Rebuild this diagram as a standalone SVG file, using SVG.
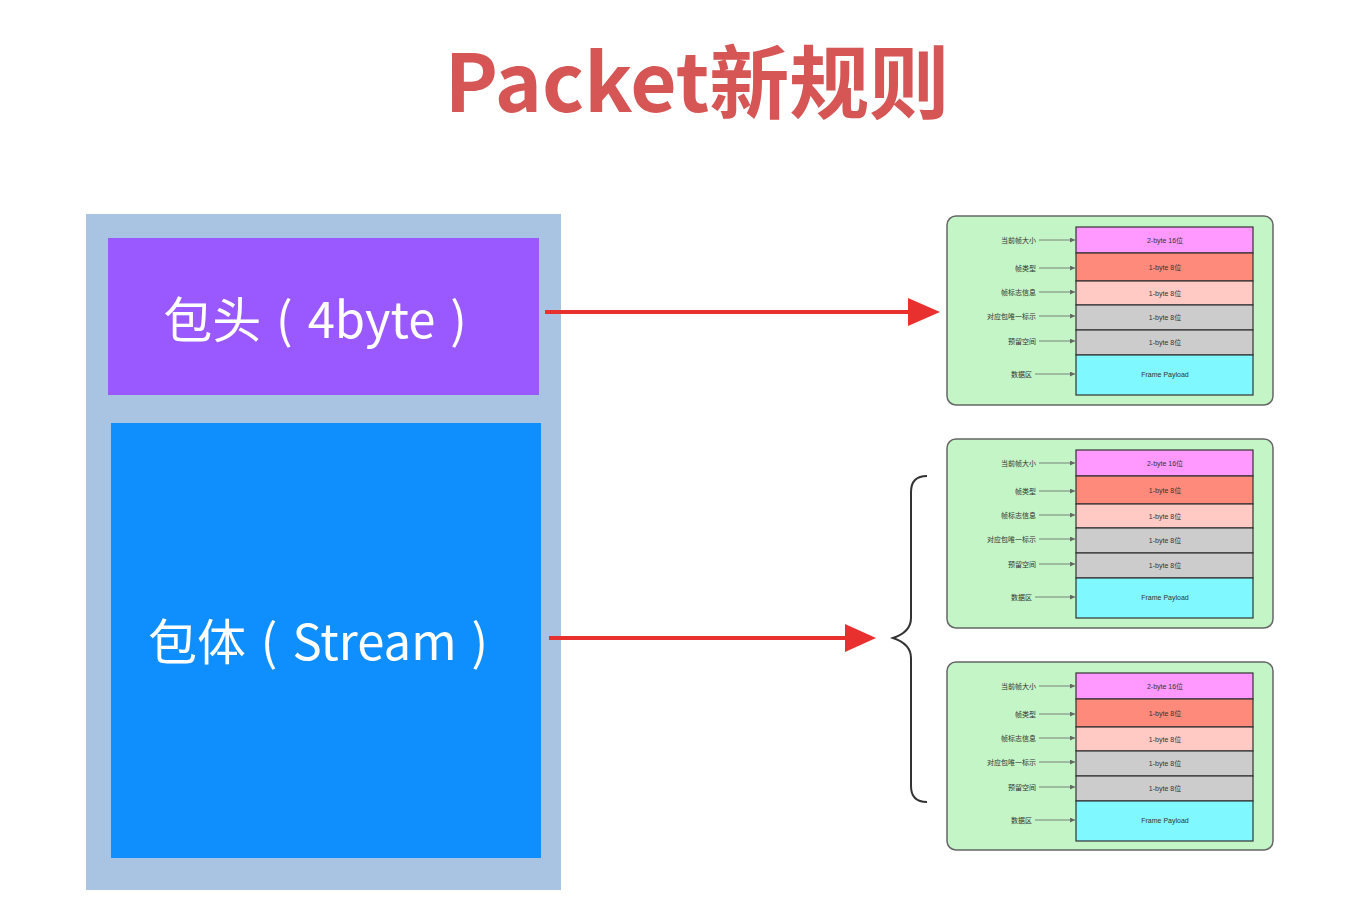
<svg xmlns="http://www.w3.org/2000/svg" width="1365" height="910" viewBox="0 0 1365 910">
<defs>
<style>
.title{font-family:"Noto Sans CJK SC","Noto Sans",sans-serif;font-weight:bold;font-size:80px;fill:#d65555}
.big{font-family:"Noto Sans CJK SC","Noto Sans",sans-serif;font-size:49px;fill:#ffffff;word-spacing:4px}
.frame{fill:#c3f5c6;stroke:#666;stroke-width:1.5}
.cell{stroke:#333;stroke-width:1.2}
.lbl{font-family:"Noto Sans CJK SC",sans-serif;font-size:7px;fill:#333;text-anchor:end}
.val{font-family:"Liberation Sans","Noto Sans CJK SC",sans-serif;font-size:7px;fill:#333;text-anchor:middle}
.tick{stroke:#666;stroke-width:0.8;marker-end:url(#sm)}
.red{stroke:#e8302e;stroke-width:4;fill:none}
</style>
<marker id="sm" viewBox="0 0 6 6" refX="6" refY="3" markerWidth="5" markerHeight="5" orient="auto" markerUnits="userSpaceOnUse"><path d="M0,0 L6,3 L0,6 z" fill="#666"/></marker>
</defs>
<rect width="1365" height="910" fill="#ffffff"/>
<text class="title" x="697" y="112" text-anchor="middle">Packet新规则</text>

<g id="packet">
<rect x="86" y="214" width="475" height="676" fill="#a9c4e2"/>
</g>
<g id="header">
<rect x="108" y="238" width="431" height="157" fill="#9a59fe"/>
<text class="big" x="315" y="338" text-anchor="middle">包头 ( 4byte )</text>
</g>
<g id="body">
<rect x="111" y="423" width="430" height="435" fill="#0f8ffe"/>
<text class="big" x="318" y="660" text-anchor="middle">包体 ( Stream )</text>
</g>

<g id="connectors">
<line class="red" x1="545" y1="312" x2="910" y2="312"/>
<path d="M908,298 L940,312 L908,326 z" fill="#e8302e"/>
<line class="red" x1="549" y1="638" x2="847" y2="638"/>
<path d="M845,624 L876,638 L845,652 z" fill="#e8302e"/>
<path d="M927,476 Q911,476 911,492 L911,618 Q911,632 893,638 Q911,644 911,658 L911,786 Q911,802 927,802" fill="none" stroke="#333" stroke-width="2"/>
</g>

<g id="frame1">
<rect class="frame" x="947" y="216" width="326" height="189" rx="9"/>
<rect class="cell" x="1076" y="227" width="177" height="26" fill="#ff99ff"/>
<rect class="cell" x="1076" y="253" width="177" height="28" fill="#fe8a7b"/>
<rect class="cell" x="1076" y="281" width="177" height="24" fill="#ffc9c4"/>
<rect class="cell" x="1076" y="305" width="177" height="25" fill="#cccccc"/>
<rect class="cell" x="1076" y="330" width="177" height="25" fill="#cccccc"/>
<rect class="cell" x="1076" y="355" width="177" height="40" fill="#80f8ff"/>
<text class="val" x="1165" y="242.5">2-byte 16位</text>
<text class="val" x="1165" y="269.5">1-byte 8位</text>
<text class="val" x="1165" y="295.5">1-byte 8位</text>
<text class="val" x="1165" y="320">1-byte 8位</text>
<text class="val" x="1165" y="345">1-byte 8位</text>
<text class="val" x="1165" y="377">Frame Payload</text>
<text class="lbl" x="1036" y="242.5">当前帧大小</text>
<text class="lbl" x="1036" y="270.5">帧类型</text>
<text class="lbl" x="1036" y="294.5">帧标志信息</text>
<text class="lbl" x="1036" y="318.5">对应包唯一标示</text>
<text class="lbl" x="1036" y="343.5">预留空间</text>
<text class="lbl" x="1032" y="376.5">数据区</text>
<line class="tick" x1="1039" y1="240" x2="1075" y2="240"/>
<line class="tick" x1="1039" y1="268" x2="1075" y2="268"/>
<line class="tick" x1="1039" y1="292" x2="1075" y2="292"/>
<line class="tick" x1="1039" y1="316" x2="1075" y2="316"/>
<line class="tick" x1="1039" y1="341" x2="1075" y2="341"/>
<line class="tick" x1="1035" y1="374" x2="1075" y2="374"/>
</g>

<g id="frame2" transform="translate(0,223)">
<rect class="frame" x="947" y="216" width="326" height="189" rx="9"/>
<rect class="cell" x="1076" y="227" width="177" height="26" fill="#ff99ff"/>
<rect class="cell" x="1076" y="253" width="177" height="28" fill="#fe8a7b"/>
<rect class="cell" x="1076" y="281" width="177" height="24" fill="#ffc9c4"/>
<rect class="cell" x="1076" y="305" width="177" height="25" fill="#cccccc"/>
<rect class="cell" x="1076" y="330" width="177" height="25" fill="#cccccc"/>
<rect class="cell" x="1076" y="355" width="177" height="40" fill="#80f8ff"/>
<text class="val" x="1165" y="242.5">2-byte 16位</text>
<text class="val" x="1165" y="269.5">1-byte 8位</text>
<text class="val" x="1165" y="295.5">1-byte 8位</text>
<text class="val" x="1165" y="320">1-byte 8位</text>
<text class="val" x="1165" y="345">1-byte 8位</text>
<text class="val" x="1165" y="377">Frame Payload</text>
<text class="lbl" x="1036" y="242.5">当前帧大小</text>
<text class="lbl" x="1036" y="270.5">帧类型</text>
<text class="lbl" x="1036" y="294.5">帧标志信息</text>
<text class="lbl" x="1036" y="318.5">对应包唯一标示</text>
<text class="lbl" x="1036" y="343.5">预留空间</text>
<text class="lbl" x="1032" y="376.5">数据区</text>
<line class="tick" x1="1039" y1="240" x2="1075" y2="240"/>
<line class="tick" x1="1039" y1="268" x2="1075" y2="268"/>
<line class="tick" x1="1039" y1="292" x2="1075" y2="292"/>
<line class="tick" x1="1039" y1="316" x2="1075" y2="316"/>
<line class="tick" x1="1039" y1="341" x2="1075" y2="341"/>
<line class="tick" x1="1035" y1="374" x2="1075" y2="374"/>
</g>

<g id="frame3" transform="translate(0,446)">
<rect class="frame" x="947" y="216" width="326" height="188" rx="9"/>
<rect class="cell" x="1076" y="227" width="177" height="26" fill="#ff99ff"/>
<rect class="cell" x="1076" y="253" width="177" height="28" fill="#fe8a7b"/>
<rect class="cell" x="1076" y="281" width="177" height="24" fill="#ffc9c4"/>
<rect class="cell" x="1076" y="305" width="177" height="25" fill="#cccccc"/>
<rect class="cell" x="1076" y="330" width="177" height="25" fill="#cccccc"/>
<rect class="cell" x="1076" y="355" width="177" height="40" fill="#80f8ff"/>
<text class="val" x="1165" y="242.5">2-byte 16位</text>
<text class="val" x="1165" y="269.5">1-byte 8位</text>
<text class="val" x="1165" y="295.5">1-byte 8位</text>
<text class="val" x="1165" y="320">1-byte 8位</text>
<text class="val" x="1165" y="345">1-byte 8位</text>
<text class="val" x="1165" y="377">Frame Payload</text>
<text class="lbl" x="1036" y="242.5">当前帧大小</text>
<text class="lbl" x="1036" y="270.5">帧类型</text>
<text class="lbl" x="1036" y="294.5">帧标志信息</text>
<text class="lbl" x="1036" y="318.5">对应包唯一标示</text>
<text class="lbl" x="1036" y="343.5">预留空间</text>
<text class="lbl" x="1032" y="376.5">数据区</text>
<line class="tick" x1="1039" y1="240" x2="1075" y2="240"/>
<line class="tick" x1="1039" y1="268" x2="1075" y2="268"/>
<line class="tick" x1="1039" y1="292" x2="1075" y2="292"/>
<line class="tick" x1="1039" y1="316" x2="1075" y2="316"/>
<line class="tick" x1="1039" y1="341" x2="1075" y2="341"/>
<line class="tick" x1="1035" y1="374" x2="1075" y2="374"/>
</g>
</svg>
